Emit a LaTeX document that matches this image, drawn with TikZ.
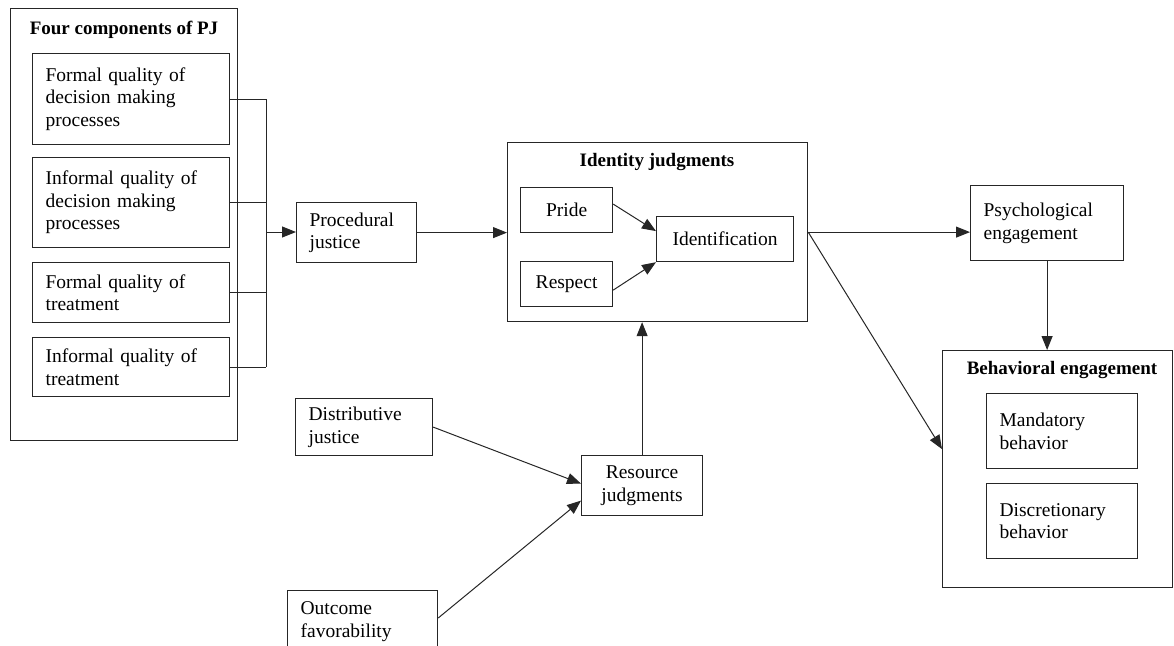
\documentclass[tikz,border=0pt]{standalone}
\usepackage{fontspec}
\setmainfont{Liberation Serif}
\usetikzlibrary{arrows.meta}
\tikzset{
  boxl/.style={draw=black!85, line width=1.2pt, rectangle, anchor=north west, inner xsep=13pt, inner ysep=0pt,
    align=left, font=\fontsize{19.5}{22.5}\selectfont},
  boxc/.style={boxl, align=center, inner xsep=2pt},
  ttl/.style={font=\bfseries\fontsize{19}{22}\selectfont, inner sep=0pt},
  arr/.style={draw=black!85, line width=1pt, -{Triangle[length=14pt,width=11pt]}},
  ln/.style={draw=black!85, line width=1pt}
}
\begin{document}
\begin{tikzpicture}[x=1pt,y=-1pt]
\useasboundingbox (0,0) rectangle (1174,645);
\clip (0,0) rectangle (1174,645);
% Four components of PJ
\node[boxl, minimum width=227pt, minimum height=432pt] (pj) at (10,8) {};
\node[ttl] (pjt) at (124,30) {Four components of PJ};
\node[boxl, minimum width=197pt, minimum height=91pt, text width=171pt] (f1) at (32,53) {Formal quality of\\decision making\\processes};
\node[boxl, minimum width=197pt, minimum height=90pt, text width=171pt] (f2) at (32,157) {Informal quality of\\decision making\\processes};
\node[boxl, minimum width=197pt, minimum height=60pt, text width=171pt] (f3) at (32,262) {Formal quality of\\treatment};
\node[boxl, minimum width=197pt, minimum height=59pt, text width=171pt] (f4) at (32,337) {Informal quality of\\treatment};
\coordinate (j) at (266,232);
\draw[ln] (f1.east) -- (f1.east -| j);
\draw[ln] (f2.east) -- (f2.east -| j);
\draw[ln] (f3.east) -- (f3.east -| j);
\draw[ln] (f4.east) -- (f4.east -| j);
\draw[ln] (f1.east -| j) -- (f4.east -| j);
% Procedural justice
\node[boxl, minimum width=120pt, minimum height=60pt, text width=94pt] (pro) at (296,202) {Procedural\\justice};
\draw[arr] (j) -- (pro.west |- j);
% Identity judgments
\node[boxl, minimum width=300pt, minimum height=179pt] (id) at (507,142) {};
\node[ttl] (idt) at (657,162) {Identity judgments};
\node[boxc, minimum width=92pt, minimum height=45pt] (pride) at (520,187) {Pride};
\node[boxc, minimum width=92pt, minimum height=45pt] (resp) at (520,261) {Respect};
\node[boxc, minimum width=137pt, minimum height=45pt] (idf) at (656,216) {Identification};
\draw[arr] (pro.east) -- (pro.east -| id.west);
\draw[arr] ([yshift=6pt]pride.east) -- ([yshift=8pt]idf.west);
\draw[arr] ([yshift=-6pt]resp.east) -- (idf.south west);
% Engagement
\node[boxl, minimum width=153pt, minimum height=75pt, text width=127pt] (psy) at (970,185) {Psychological\\engagement};
\node[boxl, minimum width=230pt, minimum height=237pt] (beh) at (942,350) {};
\node[ttl] (beht) at (1062,370) {Behavioral engagement};
\node[boxl, minimum width=151pt, minimum height=75pt, text width=125pt] (man) at (986,393) {Mandatory\\behavior\\[7pt]};
\node[boxl, minimum width=151pt, minimum height=75pt, text width=125pt] (dis) at (986,483) {Discretionary\\behavior\\[12pt]};
\draw[arr] (id.east) -- (id.east -| psy.west);
\draw[arr] (id.east) -- ([yshift=20pt]beh.west);
\draw[arr] (psy.south) -- (psy.south |- beh.north);
% Resource side
\node[boxl, minimum width=137pt, minimum height=57pt, text width=111pt] (dist) at (295,398) {Distributive\\justice};
\node[boxc, minimum width=121pt, minimum height=60pt] (res) at (581,455) {Resource\\judgments};
\node[boxl, minimum width=150pt, minimum height=62pt, text width=124pt] (out) at (287,590) {Outcome\\favorability};
\draw[arr] (res.north) -- (res.north |- id.south);
\draw[arr] (dist.east) -- ([yshift=2pt]res.west);
\draw[arr] ([yshift=-28pt]out.north east) -- ([yshift=-15pt]res.west);
\end{tikzpicture}
\end{document}
